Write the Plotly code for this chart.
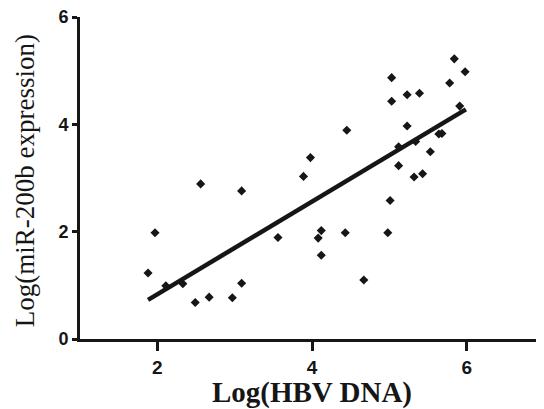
import plotly.graph_objects as go

# Scatter data: Log(HBV DNA) vs Log(miR-200b expression)
hbv_dna = [1.88, 1.97, 2.11, 2.33, 2.49, 2.56, 2.67, 2.97, 3.09, 3.09,
           3.56, 3.89, 3.98, 4.12, 4.08, 4.12, 4.43, 4.45, 4.67, 4.98,
           5.01, 5.03, 5.03, 5.12, 5.12, 5.23, 5.23, 5.32, 5.34, 5.39,
           5.43, 5.53, 5.64, 5.68, 5.78, 5.84, 5.91, 5.98]
mir200b = [1.23, 1.98, 0.99, 1.03, 0.68, 2.89, 0.78, 0.77, 1.04, 2.76,
           1.89, 3.03, 3.38, 2.02, 1.88, 1.56, 1.98, 3.89, 1.10, 1.98,
           2.58, 4.87, 4.43, 3.58, 3.23, 4.55, 3.97, 3.02, 3.68, 4.58,
           3.08, 3.49, 3.82, 3.83, 4.77, 5.22, 4.34, 4.98]

# Regression line end points
fit_x = [1.88, 5.99]
fit_y = [0.73, 4.28]

x_ticks = [2, 4, 6]
y_ticks = [0, 2, 4, 6]

fig = go.Figure()
fig.add_trace(go.Scatter(x=fit_x, y=fit_y, mode="lines",
                         line=dict(color="#161616", width=4.5),
                         showlegend=False, hoverinfo="skip"))
fig.add_trace(go.Scatter(x=hbv_dna, y=mir200b, mode="markers",
                         marker=dict(symbol="diamond", size=7, color="#161616"),
                         showlegend=False))

xtickfont = dict(family="Liberation Sans, Arial, sans-serif", size=19, color="#161616")
ytickfont = dict(family="Liberation Sans, Arial, sans-serif", size=18, color="#161616")

# page body has an 8px default margin; compensate in figure size/margins
fig.update_layout(
    width=536, height=401,
    margin=dict(l=72, r=0, t=9, b=70),
    paper_bgcolor="white", plot_bgcolor="white",
    xaxis=dict(range=[1, 7], tickvals=x_ticks,
               ticktext=["<b>%d</b>" % v for v in x_ticks],
               showgrid=False, zeroline=False, showline=True, linecolor="#161616",
               linewidth=3, ticks="outside", ticklen=9, tickwidth=2.5,
               tickcolor="#161616", tickfont=xtickfont, automargin=False,
               title=dict(text="<b>Log(HBV DNA)</b>", standoff=8,
                          font=dict(family="Liberation Serif, Times New Roman, serif",
                                    size=29, color="#161616"))),
    yaxis=dict(range=[0, 6], tickvals=y_ticks,
               ticktext=["<b>%d</b>" % v for v in y_ticks],
               showgrid=False, zeroline=False, showline=True, linecolor="#161616",
               linewidth=3, ticks="outside", ticklen=5, tickwidth=2.5,
               tickcolor="#161616", tickfont=ytickfont, automargin=False,
               ticklabeloverflow="allow"),
    annotations=[dict(text="Log(miR-200b expression)", xref="paper", yref="paper",
                      x=0, y=0.49, xanchor="center", yanchor="middle",
                      xshift=-55, textangle=-90, showarrow=False,
                      font=dict(family="Liberation Serif, Times New Roman, serif",
                                size=27, color="#161616"))],
)

fig.write_html("out.html")
